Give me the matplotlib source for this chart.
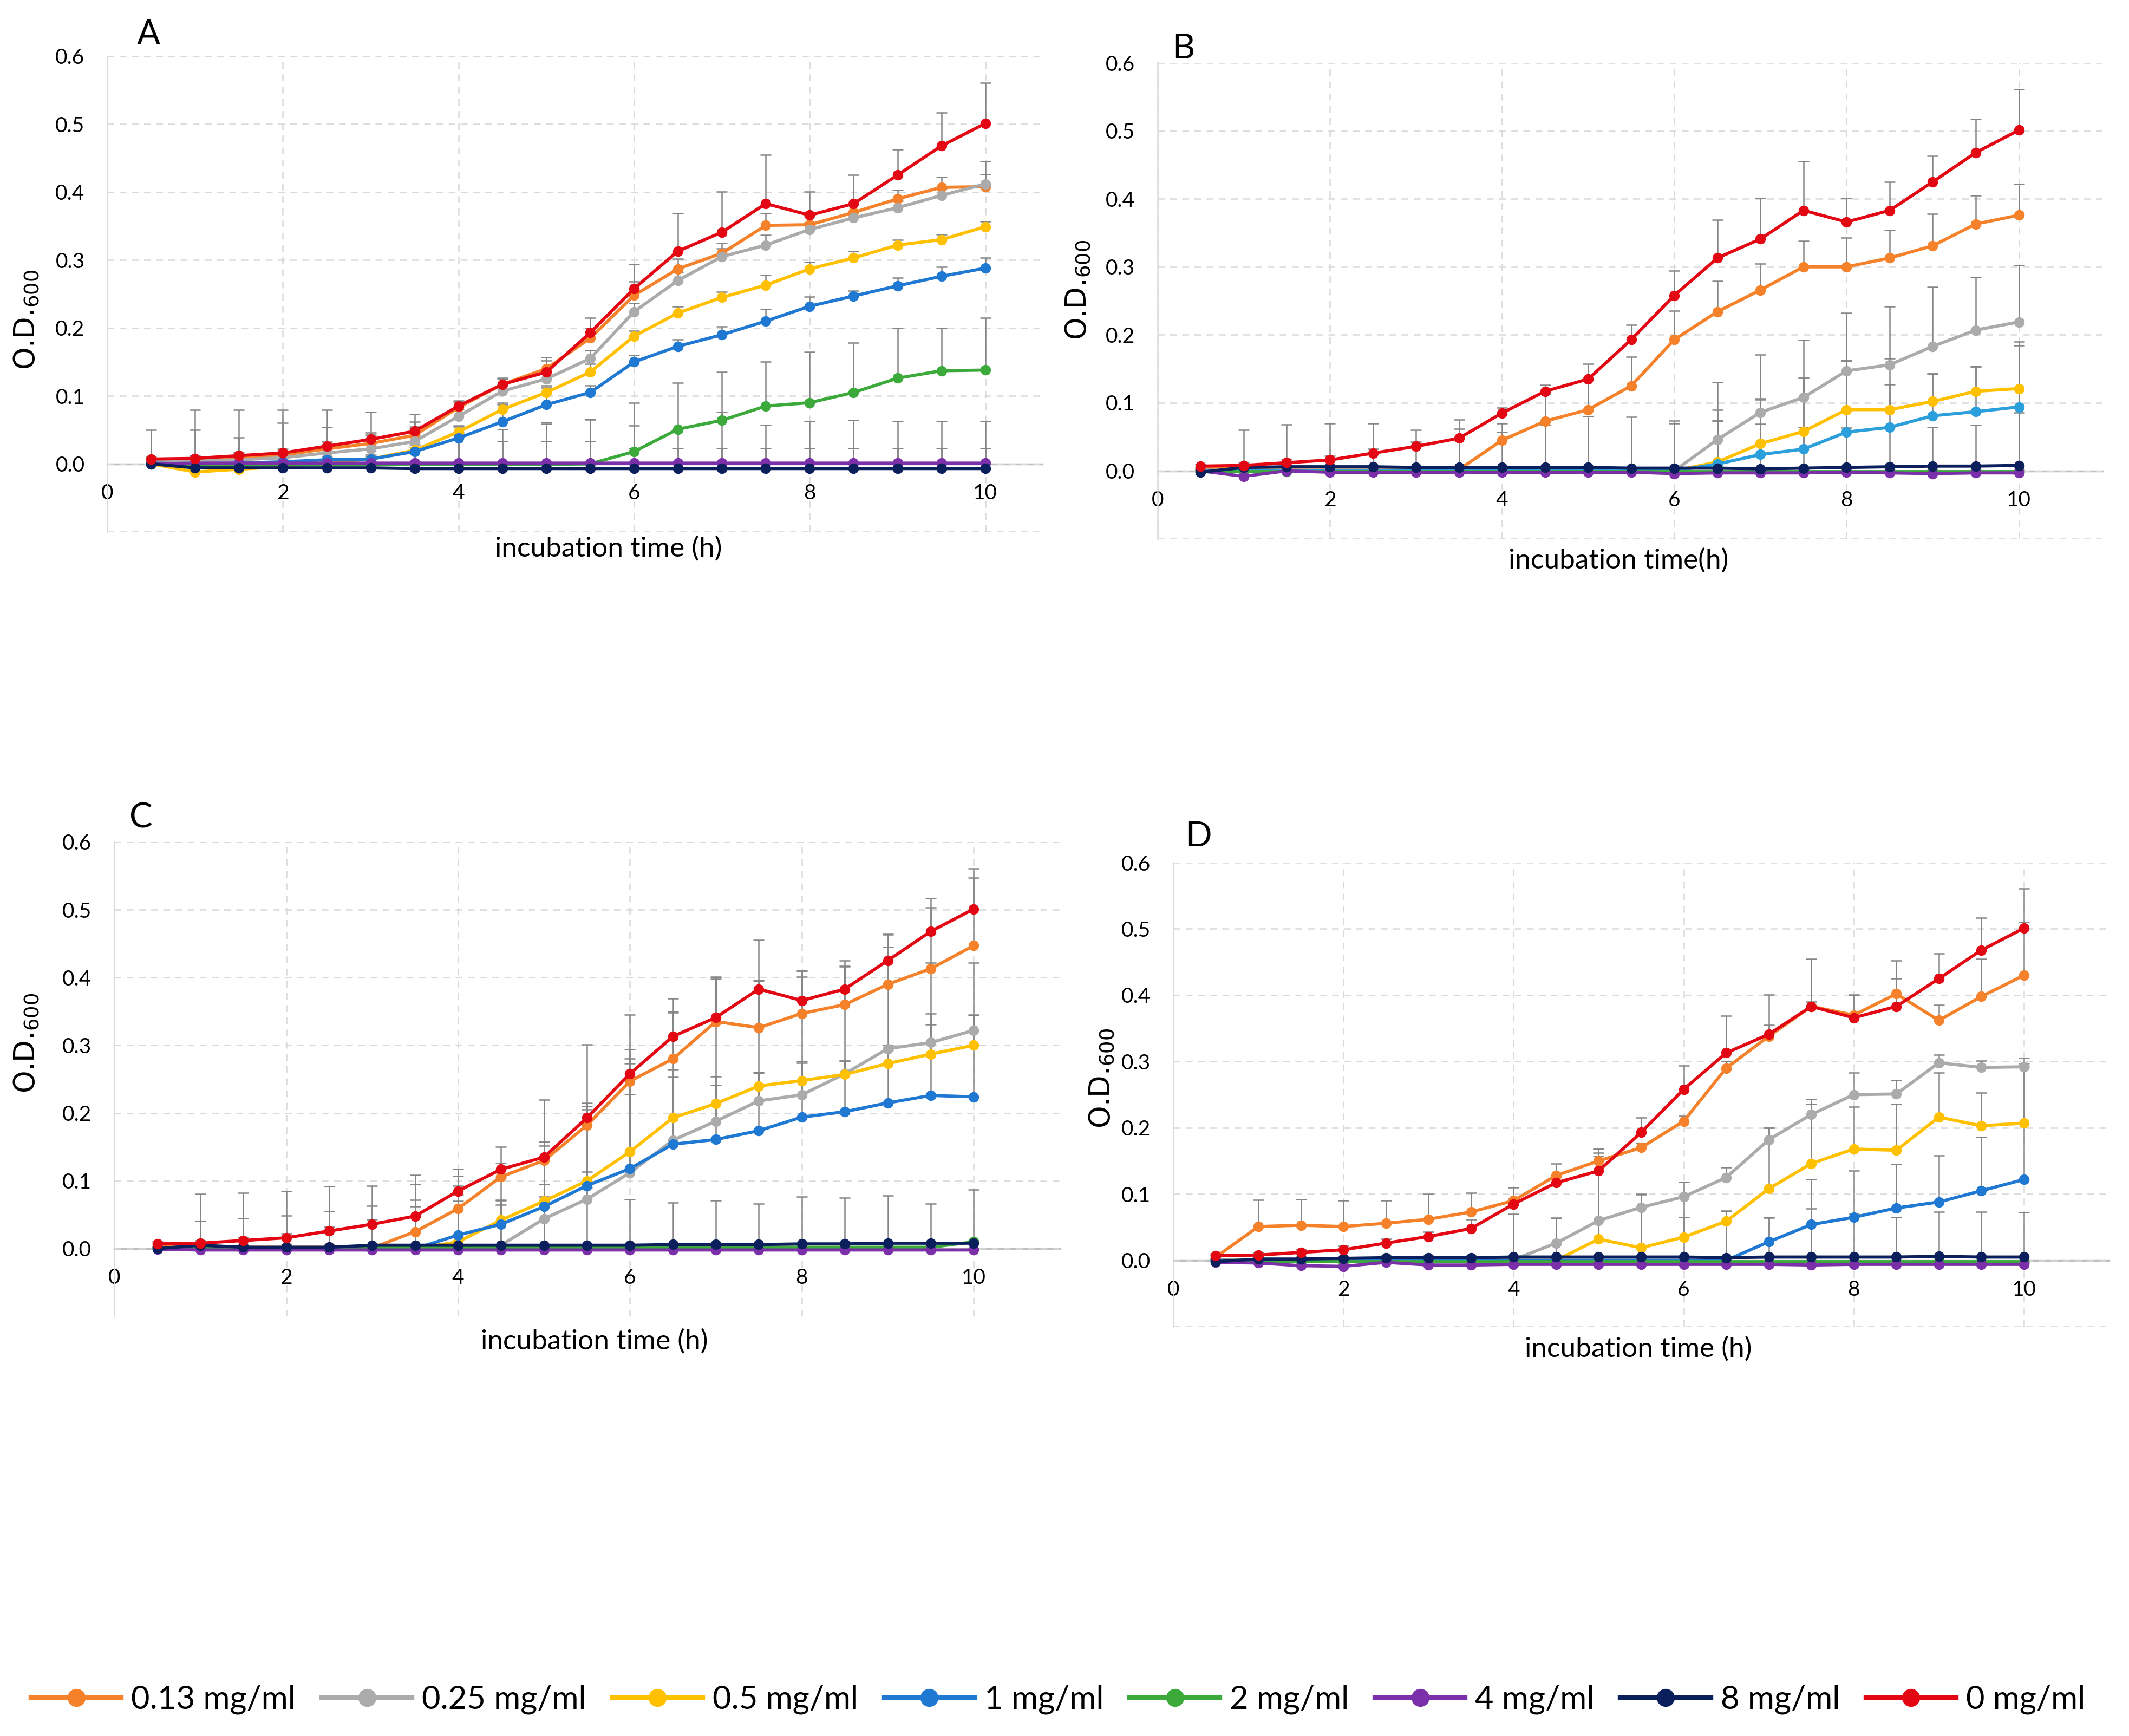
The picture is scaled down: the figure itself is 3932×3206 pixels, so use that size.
import numpy as np
from matplotlib import rcParams
from matplotlib.pyplot import figure, close
from matplotlib.ticker import FixedLocator, FuncFormatter
from matplotlib.lines import Line2D

rcParams["font.family"] = ["Lato", "DejaVu Sans"]
rcParams["mathtext.fontset"] = "dejavusans"

HOURS = [0.5, 1.0, 1.5, 2.0, 2.5, 3.0, 3.5, 4.0, 4.5, 5.0,
         5.5, 6.0, 6.5, 7.0, 7.5, 8.0, 8.5, 9.0, 9.5, 10.0]

LABELS = ["0.13 mg/ml", "0.25 mg/ml", "0.5 mg/ml", "1 mg/ml",
          "2 mg/ml", "4 mg/ml", "8 mg/ml", "0 mg/ml"]
COLORS = ["#F5822A", "#ABABAB", "#FFC000", "#1F78D1",
          "#3BAA3B", "#7B2FA8", "#0B1F5C", "#E30613"]
ERR_COLOR = "#858585"

# untreated control (0 mg/ml) is the same curve in every panel
CONTROL = [0.007, 0.008, 0.012, 0.016, 0.026, 0.036, 0.048, 0.085, 0.117, 0.135,
           0.193, 0.258, 0.313, 0.341, 0.383, 0.366, 0.383, 0.425, 0.468, 0.501]
CONTROL_ERR = [0.003, 0.004, 0.005, 0.006, 0.006, 0.007, 0.014, 0.008, 0.009, 0.022,
               0.022, 0.036, 0.056, 0.060, 0.072, 0.035, 0.042, 0.038, 0.049, 0.060]

# rows: 0.13, 0.25, 0.5, 1, 2, 4, 8 mg/ml
OD_A = [
    [0.005, 0.006, 0.010, 0.013, 0.022, 0.030, 0.042, 0.083, 0.117, 0.140,
     0.185, 0.248, 0.287, 0.310, 0.351, 0.352, 0.370, 0.390, 0.407, 0.408],
    [0.003, 0.004, 0.006, 0.009, 0.016, 0.022, 0.033, 0.070, 0.107, 0.125,
     0.155, 0.224, 0.270, 0.305, 0.322, 0.345, 0.362, 0.377, 0.395, 0.412],
    [0.000, -0.012, -0.008, -0.004, 0.002, 0.007, 0.020, 0.047, 0.080, 0.105,
     0.135, 0.188, 0.222, 0.245, 0.263, 0.287, 0.303, 0.322, 0.330, 0.349],
    [0.001, 0.000, 0.001, 0.003, 0.006, 0.007, 0.018, 0.038, 0.062, 0.087,
     0.105, 0.150, 0.173, 0.190, 0.210, 0.232, 0.247, 0.262, 0.276, 0.288],
    [0.000, -0.002, -0.002, -0.001, -0.001, -0.001, -0.001, -0.001, -0.001, -0.001,
     0.000, 0.018, 0.051, 0.064, 0.085, 0.090, 0.105, 0.126, 0.137, 0.138],
    [0.000, 0.001, 0.001, 0.001, 0.001, 0.001, 0.001, 0.001, 0.001, 0.001,
     0.001, 0.001, 0.001, 0.001, 0.001, 0.001, 0.001, 0.001, 0.001, 0.001],
    [0.000, -0.006, -0.006, -0.006, -0.006, -0.006, -0.007, -0.007, -0.007, -0.007,
     -0.007, -0.007, -0.007, -0.007, -0.007, -0.007, -0.007, -0.007, -0.007, -0.007],
]
ERR_A = [
    [0.003, 0.004, 0.005, 0.005, 0.006, 0.008, 0.010, 0.008, 0.008, 0.012,
     0.015, 0.020, 0.015, 0.015, 0.018, 0.012, 0.012, 0.013, 0.015, 0.018],
    [0.003, 0.004, 0.005, 0.005, 0.006, 0.008, 0.010, 0.010, 0.010, 0.012,
     0.012, 0.012, 0.012, 0.012, 0.015, 0.010, 0.010, 0.010, 0.010, 0.033],
    [0.003, 0.005, 0.005, 0.005, 0.005, 0.006, 0.008, 0.008, 0.010, 0.010,
     0.012, 0.008, 0.010, 0.008, 0.015, 0.010, 0.010, 0.008, 0.008, 0.008],
    [0.003, 0.004, 0.004, 0.004, 0.004, 0.004, 0.006, 0.008, 0.025, 0.025,
     0.010, 0.010, 0.010, 0.012, 0.018, 0.014, 0.008, 0.012, 0.014, 0.015],
    [0.003, 0.004, 0.004, 0.004, 0.004, 0.004, 0.004, 0.004, 0.004, 0.060,
     0.065, 0.072, 0.068, 0.071, 0.065, 0.075, 0.073, 0.074, 0.063, 0.077],
    [0.050, 0.078, 0.078, 0.078, 0.078, 0.075, 0.072, 0.055, 0.050, 0.060,
     0.065, 0.055, 0.050, 0.075, 0.056, 0.062, 0.063, 0.062, 0.062, 0.062],
    [0.003, 0.056, 0.045, 0.066, 0.060, 0.052, 0.062, 0.050, 0.040, 0.040,
     0.040, 0.030, 0.030, 0.030, 0.030, 0.030, 0.030, 0.030, 0.030, 0.030],
]

OD_B = [
    [0.003, 0.003, 0.003, 0.003, 0.003, 0.002, 0.002, 0.045, 0.073, 0.090,
     0.125, 0.193, 0.234, 0.266, 0.300, 0.300, 0.313, 0.331, 0.363, 0.376],
    [0.001, 0.001, 0.001, 0.001, 0.001, 0.001, 0.001, 0.001, 0.001, 0.001,
     0.001, 0.000, 0.046, 0.086, 0.108, 0.147, 0.156, 0.183, 0.207, 0.219],
    [0.000, 0.000, 0.000, 0.000, 0.000, 0.000, 0.000, 0.000, 0.000, 0.000,
     0.000, 0.000, 0.013, 0.040, 0.058, 0.090, 0.090, 0.102, 0.117, 0.121],
    [0.000, 0.000, 0.000, 0.000, 0.000, 0.000, 0.000, 0.000, 0.000, 0.000,
     0.000, 0.000, 0.010, 0.024, 0.032, 0.057, 0.064, 0.081, 0.087, 0.094],
    [-0.001, -0.001, -0.001, -0.001, -0.001, -0.001, -0.001, -0.001, -0.001, -0.001,
     -0.001, -0.001, -0.001, -0.001, -0.001, -0.001, -0.001, -0.001, -0.001, -0.001],
    [0.000, -0.008, 0.000, -0.002, -0.002, -0.002, -0.002, -0.002, -0.002, -0.002,
     -0.002, -0.004, -0.003, -0.003, -0.003, -0.002, -0.003, -0.004, -0.003, -0.003],
    [-0.002, 0.005, 0.006, 0.006, 0.006, 0.005, 0.005, 0.005, 0.005, 0.005,
     0.004, 0.004, 0.004, 0.003, 0.004, 0.005, 0.006, 0.007, 0.007, 0.008],
]
ERR_B = [
    [0.002, 0.003, 0.003, 0.003, 0.003, 0.003, 0.003, 0.012, 0.040, 0.045,
     0.043, 0.042, 0.045, 0.039, 0.038, 0.043, 0.041, 0.047, 0.042, 0.046],
    [0.002, 0.002, 0.002, 0.002, 0.002, 0.002, 0.002, 0.002, 0.002, 0.002,
     0.002, 0.070, 0.084, 0.085, 0.084, 0.085, 0.086, 0.087, 0.078, 0.083],
    [0.002, 0.002, 0.002, 0.002, 0.002, 0.002, 0.002, 0.002, 0.002, 0.002,
     0.002, 0.002, 0.077, 0.065, 0.079, 0.072, 0.075, 0.041, 0.036, 0.069],
    [0.002, 0.002, 0.002, 0.002, 0.002, 0.002, 0.002, 0.002, 0.002, 0.002,
     0.002, 0.002, 0.064, 0.082, 0.105, 0.105, 0.063, 0.062, 0.066, 0.090],
    [0.002, 0.002, 0.002, 0.002, 0.002, 0.002, 0.002, 0.002, 0.002, 0.002,
     0.002, 0.002, 0.002, 0.002, 0.002, 0.002, 0.002, 0.002, 0.002, 0.002],
    [0.002, 0.002, 0.002, 0.002, 0.002, 0.002, 0.002, 0.002, 0.002, 0.002,
     0.002, 0.002, 0.002, 0.002, 0.002, 0.002, 0.002, 0.002, 0.002, 0.002],
    [0.003, 0.055, 0.062, 0.064, 0.064, 0.055, 0.070, 0.065, 0.062, 0.075,
     0.075, 0.070, 0.070, 0.066, 0.060, 0.058, 0.058, 0.057, 0.060, 0.078],
]

OD_C = [
    [0.003, 0.004, 0.002, 0.002, 0.002, 0.001, 0.025, 0.059, 0.106, 0.130,
     0.182, 0.247, 0.280, 0.335, 0.326, 0.347, 0.360, 0.390, 0.413, 0.447],
    [0.001, 0.001, 0.001, 0.001, 0.001, 0.001, 0.001, 0.001, 0.005, 0.044,
     0.073, 0.112, 0.160, 0.188, 0.218, 0.227, 0.258, 0.295, 0.304, 0.322],
    [0.000, 0.000, 0.000, 0.000, 0.000, 0.000, 0.000, 0.010, 0.042, 0.070,
     0.100, 0.143, 0.193, 0.214, 0.240, 0.248, 0.257, 0.273, 0.287, 0.300],
    [0.000, 0.000, 0.000, 0.000, 0.000, 0.000, 0.000, 0.020, 0.036, 0.062,
     0.093, 0.118, 0.154, 0.161, 0.174, 0.194, 0.202, 0.215, 0.226, 0.224],
    [0.000, 0.002, 0.002, 0.001, 0.001, 0.002, 0.002, 0.002, 0.002, 0.002,
     0.002, 0.002, 0.002, 0.002, 0.002, 0.002, 0.002, 0.002, 0.002, 0.010],
    [-0.001, -0.002, -0.002, -0.002, -0.002, -0.002, -0.002, -0.002, -0.002, -0.002,
     -0.002, -0.002, -0.002, -0.002, -0.002, -0.002, -0.002, -0.002, -0.002, -0.002],
    [0.000, 0.005, 0.002, 0.002, 0.002, 0.005, 0.005, 0.005, 0.005, 0.005,
     0.005, 0.005, 0.006, 0.006, 0.006, 0.007, 0.007, 0.008, 0.008, 0.008],
]
ERR_C = [
    [0.003, 0.004, 0.004, 0.004, 0.004, 0.005, 0.070, 0.048, 0.044, 0.027,
     0.023, 0.033, 0.068, 0.065, 0.070, 0.063, 0.057, 0.075, 0.090, 0.100],
    [0.002, 0.002, 0.002, 0.002, 0.002, 0.002, 0.002, 0.002, 0.060, 0.176,
     0.228, 0.233, 0.190, 0.210, 0.177, 0.183, 0.158, 0.150, 0.118, 0.100],
    [0.002, 0.002, 0.002, 0.002, 0.002, 0.002, 0.002, 0.070, 0.030, 0.082,
     0.110, 0.130, 0.060, 0.040, 0.020, 0.028, 0.020, 0.020, 0.060, 0.045],
    [0.002, 0.002, 0.002, 0.002, 0.002, 0.002, 0.002, 0.050, 0.035, 0.015,
     0.020, 0.110, 0.110, 0.080, 0.085, 0.080, 0.075, 0.085, 0.105, 0.120],
    [0.002, 0.002, 0.002, 0.002, 0.002, 0.002, 0.002, 0.002, 0.002, 0.002,
     0.002, 0.002, 0.002, 0.002, 0.002, 0.002, 0.002, 0.002, 0.002, 0.002],
    [0.003, 0.043, 0.047, 0.051, 0.057, 0.065, 0.074, 0.003, 0.003, 0.003,
     0.003, 0.003, 0.003, 0.003, 0.003, 0.003, 0.003, 0.003, 0.003, 0.003],
    [0.003, 0.076, 0.080, 0.083, 0.090, 0.088, 0.104, 0.112, 0.100, 0.090,
     0.085, 0.068, 0.062, 0.065, 0.060, 0.070, 0.068, 0.070, 0.058, 0.079],
]

OD_D = [
    [0.005, 0.051, 0.053, 0.051, 0.056, 0.062, 0.073, 0.090, 0.128, 0.150,
     0.170, 0.210, 0.290, 0.338, 0.383, 0.370, 0.402, 0.362, 0.398, 0.430],
    [0.001, 0.001, 0.001, 0.001, 0.001, 0.001, 0.001, 0.001, 0.026, 0.060,
     0.080, 0.096, 0.125, 0.182, 0.220, 0.250, 0.251, 0.298, 0.291, 0.292],
    [0.000, 0.000, 0.000, 0.000, 0.000, 0.000, 0.000, 0.000, 0.000, 0.032,
     0.019, 0.035, 0.059, 0.108, 0.146, 0.168, 0.166, 0.216, 0.203, 0.207],
    [0.000, 0.000, 0.000, 0.000, 0.000, 0.000, 0.000, 0.000, 0.000, 0.000,
     0.000, 0.000, 0.000, 0.028, 0.054, 0.065, 0.079, 0.088, 0.105, 0.122],
    [-0.002, -0.001, -0.002, -0.002, -0.002, -0.002, -0.002, -0.002, -0.002, -0.002,
     -0.002, -0.002, -0.002, -0.002, -0.002, -0.002, -0.002, -0.002, -0.002, -0.002],
    [-0.003, -0.004, -0.008, -0.009, -0.003, -0.007, -0.007, -0.006, -0.006, -0.006,
     -0.006, -0.006, -0.006, -0.006, -0.007, -0.006, -0.006, -0.006, -0.006, -0.006],
    [-0.002, 0.002, 0.002, 0.003, 0.004, 0.004, 0.004, 0.005, 0.005, 0.005,
     0.005, 0.005, 0.004, 0.005, 0.005, 0.005, 0.005, 0.006, 0.005, 0.005],
]
ERR_D = [
    [0.003, 0.040, 0.039, 0.039, 0.034, 0.038, 0.029, 0.020, 0.018, 0.018,
     0.007, 0.008, 0.010, 0.017, 0.007, 0.030, 0.050, 0.023, 0.057, 0.080],
    [0.002, 0.002, 0.002, 0.002, 0.002, 0.002, 0.002, 0.002, 0.038, 0.108,
     0.020, 0.022, 0.015, 0.018, 0.023, 0.033, 0.021, 0.012, 0.010, 0.013],
    [0.002, 0.002, 0.002, 0.002, 0.002, 0.002, 0.002, 0.002, 0.002, 0.130,
     0.080, 0.063, 0.016, 0.092, 0.090, 0.064, 0.070, 0.067, 0.050, 0.090],
    [0.002, 0.002, 0.002, 0.002, 0.002, 0.002, 0.002, 0.002, 0.002, 0.002,
     0.002, 0.002, 0.002, 0.036, 0.068, 0.070, 0.066, 0.070, 0.081, 0.170],
    [0.002, 0.002, 0.002, 0.002, 0.002, 0.002, 0.002, 0.002, 0.002, 0.002,
     0.002, 0.002, 0.002, 0.002, 0.002, 0.002, 0.002, 0.002, 0.002, 0.002],
    [0.002, 0.002, 0.002, 0.002, 0.002, 0.002, 0.002, 0.002, 0.002, 0.002,
     0.002, 0.002, 0.002, 0.002, 0.002, 0.002, 0.002, 0.002, 0.002, 0.002],
    [0.003, 0.003, 0.003, 0.003, 0.003, 0.003, 0.003, 0.065, 0.058, 0.003,
     0.003, 0.060, 0.070, 0.060, 0.073, 0.065, 0.060, 0.067, 0.068, 0.067],
]

Y_TICKS = [-0.1, 0.0, 0.1, 0.2, 0.3, 0.4, 0.5, 0.6]
X_TICKS = [0, 2, 4, 6, 8, 10]

# layout: rect in figure fractions, x max, letter position, y label position,
# x label text and its position in axes fractions, colour of the 1 mg/ml curve
PANELS = [
    ("A", OD_A, ERR_A, [0.0504, 0.6937, 0.4392, 0.2739], 10.65,
     (0.0699, 0.980), (0.0127, 0.816), "incubation time (h)", (0.536, -0.036), "#1F78D1"),
    ("B", OD_B, ERR_B, [0.5437, 0.6896, 0.4438, 0.2742], 10.97,
     (0.5560, 0.972), (0.5064, 0.833), "incubation time(h)", (0.488, -0.046), "#2A9FDB"),
    ("C", OD_C, ERR_C, [0.0537, 0.2417, 0.4440, 0.2733], 11.0,
     (0.0662, 0.5290), (0.0127, 0.399), "incubation time (h)", (0.508, -0.053), "#1F78D1"),
    ("D", OD_D, ERR_D, [0.5511, 0.2358, 0.4395, 0.2673], 11.0,
     (0.5630, 0.518), (0.5178, 0.379), "incubation time (h)", (0.497, -0.048), "#1F78D1"),
]


def draw_panel(ax, od_rows, err_rows, x_max, blue):
    x = np.array(HOURS)
    series = list(od_rows) + [CONTROL]
    errors = list(err_rows) + [CONTROL_ERR]
    colors = list(COLORS)
    colors[3] = blue

    for values, err in zip(series, errors):
        values = np.array(values)
        err = np.array(err)
        eb = ax.errorbar(
            x, values, yerr=[np.zeros_like(err), err], fmt="none",
            ecolor=ERR_COLOR, elinewidth=1.8, capsize=7, capthick=1.8, zorder=2,
        )
        eb[1][0].set_visible(False)

    for values, color in zip(series, colors):
        ax.plot(x, values, color=color, lw=4.2, marker="o", ms=14, mew=0, zorder=3)

    ax.set_xlim(0, x_max)
    ax.set_ylim(-0.1, 0.6)
    ax.xaxis.set_major_locator(FixedLocator(X_TICKS))
    ax.yaxis.set_major_locator(FixedLocator(Y_TICKS))
    ax.yaxis.set_major_formatter(
        FuncFormatter(lambda v, p: "" if v < -1e-9 else f"{v:.1f}")
    )
    ax.grid(True, color="#D9D9D9", lw=1.8, ls=(0, (5, 4)), zorder=0)

    ax.spines["top"].set_visible(False)
    ax.spines["right"].set_visible(False)
    ax.spines["left"].set_color("#D9D9D9")
    ax.spines["left"].set_linewidth(1.8)
    ax.spines["bottom"].set_position(("data", 0))
    ax.spines["bottom"].set_color("#BFBFBF")
    ax.spines["bottom"].set_linewidth(2.5)
    ax.spines["bottom"].set_zorder(1)

    ax.tick_params(axis="both", length=0, labelsize=28)
    ax.tick_params(axis="y", pad=30)
    ax.tick_params(axis="x", pad=26)


fig = figure(figsize=(39.32, 32.06), dpi=100)

for letter, od, err, rect, x_max, letter_xy, ylabel_xy, xlabel, xlabel_xy, blue in PANELS:
    ax = fig.add_axes(rect)
    draw_panel(ax, od, err, x_max, blue)
    ax.text(xlabel_xy[0], xlabel_xy[1], xlabel, transform=ax.transAxes,
            ha="center", va="center", fontsize=37)
    fig.text(letter_xy[0], letter_xy[1], letter, ha="center", va="center", fontsize=46)
    fig.text(ylabel_xy[0], ylabel_xy[1], "O.D.$_{600}$", rotation=90,
             ha="center", va="center", fontsize=38, family="DejaVu Sans")

handles = [
    Line2D([], [], color=c, lw=6, marker="o", ms=24, mew=0) for c in COLORS
]
fig.legend(
    handles, LABELS, loc="center", bbox_to_anchor=(0.497, 0.021), ncol=8,
    frameon=False, fontsize=43, handlelength=2.8, handletextpad=0.3,
    columnspacing=0.8,
)

fig.savefig("out.png", dpi=100)
close(fig)
